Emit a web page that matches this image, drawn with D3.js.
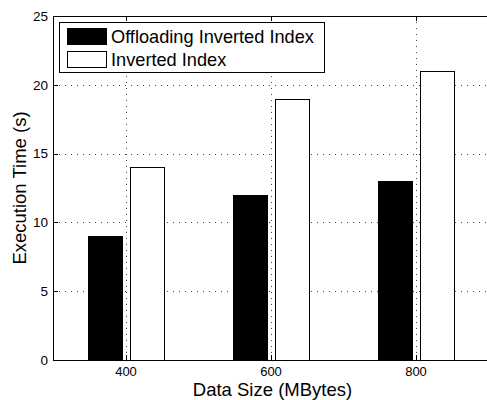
<!DOCTYPE html>
<html>
<head>
<meta charset="utf-8">
<script src="https://cdn.jsdelivr.net/npm/d3@7"></script>
<style>
  html, body { margin: 0; padding: 0; background: #fff; }
  svg { display: block; font-family: "Liberation Sans", Arial, Helvetica, sans-serif; }
</style>
</head>
<body>
<svg id="chart" width="487" height="400"></svg>
<script>
// Data
const dataSizes = ["400", "600", "800"];
const seriesNames = ["Offloading Inverted Index", "Inverted Index"];
const offloadingTimes = [9, 12, 13];
const invertedTimes = [14, 19, 21];
const yTicks = [0, 5, 10, 15, 20, 25];
const seriesFill = ["#000000", "#ffffff"];

const svg = d3.select("#chart");

const plot = { left: 53, right: 488, top: 16, bottom: 360 };

const x = d3.scalePoint()
  .domain(dataSizes)
  .range([plot.left, plot.right])
  .padding(0.5);
const step = x.step();

const inner = d3.scaleBand()
  .domain(seriesNames)
  .range([-0.262 * step, 0.262 * step])
  .paddingInner(0.19);

const y = d3.scaleLinear().domain([0, 25]).range([plot.bottom, plot.top]);

const rows = dataSizes.map((s, i) => ({
  size: s,
  values: [
    { name: seriesNames[0], v: offloadingTimes[i], fill: seriesFill[0] },
    { name: seriesNames[1], v: invertedTimes[i], fill: seriesFill[1] }
  ]
}));

// Dotted grid behind the bars
const grid = svg.append("g")
  .attr("stroke", "#444")
  .attr("stroke-width", 1)
  .attr("stroke-dasharray", "1,5")
  .attr("shape-rendering", "crispEdges");

grid.selectAll("line.gy")
  .data(yTicks.filter(t => t > 0 && t < 25))
  .join("line")
  .attr("class", "gy")
  .attr("x1", plot.left).attr("x2", plot.right)
  .attr("y1", d => Math.round(y(d)) + 0.5)
  .attr("y2", d => Math.round(y(d)) + 0.5);

grid.selectAll("line.gx")
  .data(dataSizes)
  .join("line")
  .attr("class", "gx")
  .attr("x1", d => Math.round(x(d)) + 0.5)
  .attr("x2", d => Math.round(x(d)) + 0.5)
  .attr("y1", plot.top).attr("y2", plot.bottom);

// Bars
const groups = svg.append("g")
  .selectAll("g")
  .data(rows)
  .join("g")
  .attr("transform", d => `translate(${x(d.size)},0)`);

groups.selectAll("rect")
  .data(d => d.values)
  .join("rect")
  .attr("x", d => Math.round(inner(d.name)) + 0.5)
  .attr("width", Math.round(inner.bandwidth()))
  .attr("y", d => Math.round(y(d.v)) + 0.5)
  .attr("height", d => Math.round(y(0)) - Math.round(y(d.v)))
  .attr("fill", d => d.fill)
  .attr("stroke", "#000")
  .attr("stroke-width", 1)
  .attr("shape-rendering", "crispEdges");

// Axes box
const axisG = svg.append("g").attr("shape-rendering", "crispEdges");

const yAxis = d3.axisLeft(y)
  .tickValues(yTicks)
  .tickSize(-5)
  .tickPadding(5)
  .tickFormat(d3.format("d"));

axisG.append("g")
  .attr("transform", `translate(${plot.left},0)`)
  .call(yAxis)
  .call(g => g.selectAll("text").attr("font-size", 13.5).attr("fill", "#000").attr("font-family", "Liberation Sans, Arial, sans-serif"))
  .call(g => g.selectAll("line, path").attr("stroke", "#000"));

const xAxis = d3.axisBottom(x)
  .tickSize(-5)
  .tickPadding(7)
  .tickSizeOuter(0);

axisG.append("g")
  .attr("transform", `translate(0,${plot.bottom})`)
  .call(xAxis)
  .call(g => g.selectAll("text").attr("font-size", 13).attr("fill", "#000").attr("font-family", "Liberation Sans, Arial, sans-serif"))
  .call(g => g.selectAll("line, path").attr("stroke", "#000"));

const xAxisTop = d3.axisTop(x)
  .tickSize(-5)
  .tickSizeOuter(0)
  .tickFormat("");

axisG.append("g")
  .attr("transform", `translate(0,${plot.top})`)
  .call(xAxisTop)
  .call(g => g.selectAll("line, path").attr("stroke", "#000"));

// Axis labels
svg.append("text")
  .attr("x", (plot.left + plot.right) / 2 + 2)
  .attr("y", 395.5)
  .attr("text-anchor", "middle")
  .attr("font-size", 18.5)
  .text("Data Size (MBytes)");

svg.append("text")
  .attr("transform", `translate(26,${(plot.top + plot.bottom) / 2}) rotate(-90)`)
  .attr("text-anchor", "middle")
  .attr("font-size", 18.5)
  .text("Execution Time (s)");

// Legend
const legend = svg.append("g").attr("shape-rendering", "crispEdges");
legend.append("rect")
  .attr("x", 59.5).attr("y", 22.5)
  .attr("width", 265).attr("height", 50)
  .attr("fill", "#fff").attr("stroke", "#000");

const items = legend.selectAll("g.item")
  .data(seriesNames)
  .join("g")
  .attr("class", "item")
  .attr("transform", (d, i) => `translate(0,${i * 22.5})`);

items.append("rect")
  .attr("x", 67.5).attr("y", 28.5)
  .attr("width", 39).attr("height", 16)
  .attr("fill", (d, i) => seriesFill[i])
  .attr("stroke", "#000");

items.append("text")
  .attr("x", 111)
  .attr("y", 43)
  .attr("font-size", 18.2)
  .text(d => d);
</script>
</body>
</html>
